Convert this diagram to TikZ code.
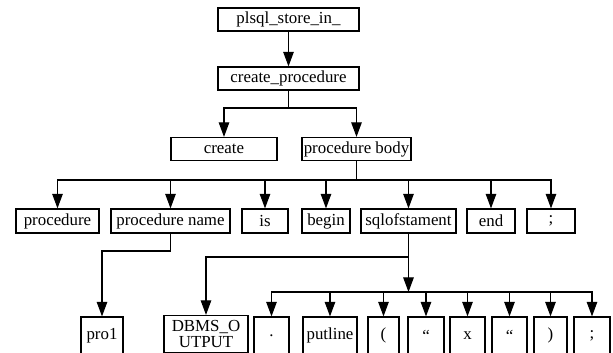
\documentclass[tikz,border=0pt]{standalone}
\usepackage{fontspec}
\setmainfont{Liberation Serif}
\usetikzlibrary{arrows.meta}

\begin{document}
\begin{tikzpicture}[x=0.03cm, y=-0.03cm, line width=1pt,
	>={Triangle[length=12.5pt, width=9pt]},
	box/.style={draw, inner sep=0pt, minimum height=0.69cm, font=\fontsize{14.4}{16}\selectfont},
	leaf/.style={box, minimum height=1.11cm, align=center}]
	\useasboundingbox (0,0) rectangle (613,352);

	\node [box, minimum width=4.23cm] (store) at (288.5, 19.5) {plsql\_store\_in\_};
	\node [box, minimum width=4.23cm] (cproc) at (288.5, 78.5) {create\_procedure};
	\node [box, minimum width=3.18cm] (create) at (224, 149) {create};
	\node [box, minimum width=3.27cm] (body) at (356.5, 149) {procedure body};

	\node [box, minimum width=2.49cm, minimum height=0.72cm] (proc) at (57.5, 221) {procedure};
	\node [box, minimum width=3.57cm, minimum height=0.72cm] (pname) at (170.5, 221) {procedure name};
	\node [box, minimum width=1.38cm, minimum height=0.72cm] (is) at (265, 221) {is};
	\node [box, minimum width=1.44cm, minimum height=0.72cm] (begin) at (326, 221) {begin};
	\node [box, minimum width=2.85cm, minimum height=0.72cm] (sql) at (408.5, 221) {sqlofstament};
	\node [box, minimum width=1.44cm, minimum height=0.72cm] (end) at (491, 221) {end};
	\node [box, minimum width=1.44cm, minimum height=0.72cm] (semi) at (551, 221) {;};

	\node [leaf, minimum width=1.26cm] (pro1) at (102, 335.5) {pro1};
	\node [leaf, minimum width=2.52cm, font=\fontsize{14.4}{14}\selectfont] (dbms) at (206, 334) {DBMS\_O\\UTPUT};
	\node [leaf, minimum width=1.05cm] (dot) at (271.5, 335.5) {.};
	\node [leaf, minimum width=1.62cm] (putline) at (330, 335.5) {putline};
	\node [leaf, minimum width=0.93cm] (lpar) at (383.5, 335.5) {(};
	\node [leaf, minimum width=1.08cm] (qa) at (426, 335.5) {“};
	\node [leaf, minimum width=1.05cm] (xx) at (467.5, 335.5) {x};
	\node [leaf, minimum width=1.05cm] (qb) at (509.5, 335.5) {“};
	\node [leaf, minimum width=0.99cm] (rpar) at (550.5, 335.5) {)};
	\node [leaf, minimum width=1.08cm] (semib) at (592, 335.5) {;};

	\coordinate (J1) at (288.5, 108);
	\coordinate (J2) at (356.5, 180);
	\coordinate (J3) at (102, 251);
	\coordinate (J4) at (408.5, 257);
	\coordinate (J5) at (408.5, 292);

	\draw [->] (store) -- (cproc);
	\draw (cproc) -- (J1);
	\draw [->] (J1) -| (create);
	\draw [->] (J1) -| (body);

	\draw (body) -- (J2);
	\foreach \n in {proc, pname, is, begin, sql, end, semi}
		\draw [->] (J2) -| (\n);

	\draw [->] (pname.south) |- (J3) -- (pro1);

	\draw (sql) -- (J4);
	\draw [->] (J4) -| (dbms);
	\draw [->] (J4) -- (J5);
	\foreach \n in {dot, putline, lpar, qa, xx, qb, rpar, semib}
		\draw [->] (J5) -| (\n);
\end{tikzpicture}
\end{document}
